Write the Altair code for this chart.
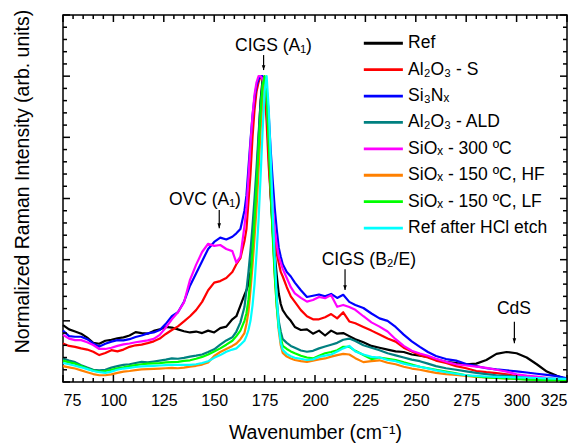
import altair as alt
import pandas as pd

FONT = "Liberation Sans"

wavenumber = [75, 78, 81, 84, 87, 90, 93, 96, 99, 102, 105, 108, 111, 114, 117, 120, 123, 126, 129, 132, 135, 138, 141, 144, 147, 150, 153, 156, 159,
              161, 163, 165, 166, 167, 168, 169, 170, 171, 172, 173, 174, 175, 176, 177, 178, 179, 180, 181, 182, 183, 184, 186,
              188, 190, 193, 196, 199, 202, 205, 208, 211, 214, 217, 220, 224, 228, 232, 236, 240, 244, 248, 252, 256, 260, 265, 270, 275, 280, 285, 290, 295, 300, 305, 310, 315, 320, 325]

ref = [0.186, 0.172, 0.165, 0.158, 0.145, 0.128, 0.125, 0.135, 0.138, 0.143, 0.146, 0.152, 0.163, 0.160, 0.158, 0.167, 0.172, 0.180, 0.178, 0.172, 0.166, 0.162, 0.165, 0.160, 0.168, 0.162, 0.176, 0.181, 0.205,
       0.215, 0.25, 0.285, 0.30, 0.32, 0.36, 0.44, 0.54, 0.66, 0.79, 0.92, 0.99, 0.99, 0.90, 0.75, 0.61, 0.50, 0.42, 0.35, 0.29, 0.255, 0.235, 0.215,
       0.200, 0.180, 0.170, 0.172, 0.158, 0.168, 0.152, 0.168, 0.158, 0.160, 0.150, 0.140, 0.130, 0.118, 0.112, 0.106, 0.100, 0.098, 0.090, 0.086, 0.082, 0.074, 0.066, 0.062, 0.058, 0.060, 0.072, 0.092, 0.098, 0.094, 0.080, 0.058, 0.034, 0.020, 0.008]

al2o3_s = [0.126, 0.118, 0.115, 0.110, 0.106, 0.099, 0.088, 0.095, 0.104, 0.100, 0.106, 0.115, 0.120, 0.122, 0.127, 0.133, 0.142, 0.157, 0.170, 0.182, 0.198, 0.215, 0.235, 0.262, 0.300, 0.325, 0.330, 0.340, 0.360,
           0.385, 0.405, 0.46, 0.50, 0.59, 0.68, 0.80, 0.89, 0.95, 0.98, 1.0, 0.99, 0.95, 0.85, 0.71, 0.61, 0.53, 0.46, 0.42, 0.39, 0.36, 0.345, 0.31,
           0.28, 0.262, 0.235, 0.215, 0.205, 0.205, 0.212, 0.222, 0.208, 0.228, 0.198, 0.192, 0.180, 0.168, 0.155, 0.142, 0.132, 0.112, 0.100, 0.088, 0.080, 0.070, 0.062, 0.052, 0.045, 0.036, 0.032, 0.029, 0.025, 0.019, 0.016, 0.013, 0.011, 0.009, 0.007]

si3nx = [0.168, 0.150, 0.148, 0.148, 0.140, 0.126, 0.116, 0.125, 0.132, 0.137, 0.136, 0.140, 0.147, 0.152, 0.159, 0.162, 0.170, 0.190, 0.215, 0.228, 0.262, 0.315, 0.355, 0.395, 0.435, 0.458, 0.472, 0.466, 0.475,
         0.486, 0.50, 0.56, 0.61, 0.70, 0.79, 0.87, 0.93, 0.97, 0.99, 1.0, 1.0, 0.99, 0.96, 0.88, 0.76, 0.66, 0.57, 0.50, 0.44, 0.41, 0.385, 0.36,
         0.345, 0.325, 0.30, 0.278, 0.282, 0.286, 0.280, 0.288, 0.275, 0.285, 0.262, 0.252, 0.242, 0.224, 0.208, 0.200, 0.180, 0.155, 0.133, 0.115, 0.098, 0.085, 0.075, 0.070, 0.059, 0.052, 0.045, 0.041, 0.038, 0.035, 0.031, 0.027, 0.023, 0.019, 0.012]

al2o3_ald = [0.077, 0.070, 0.065, 0.055, 0.047, 0.040, 0.038, 0.040, 0.047, 0.052, 0.056, 0.058, 0.062, 0.066, 0.064, 0.067, 0.070, 0.073, 0.077, 0.076, 0.079, 0.083, 0.086, 0.090, 0.098, 0.107, 0.122, 0.136, 0.146,
             0.165, 0.195, 0.245, 0.30, 0.36, 0.43, 0.51, 0.60, 0.70, 0.81, 0.91, 0.98, 0.99, 0.93, 0.80, 0.65, 0.50, 0.37, 0.27, 0.20, 0.165, 0.14, 0.128,
             0.118, 0.112, 0.103, 0.099, 0.102, 0.110, 0.116, 0.122, 0.128, 0.138, 0.142, 0.134, 0.120, 0.112, 0.104, 0.094, 0.087, 0.080, 0.073, 0.068, 0.060, 0.052, 0.045, 0.040, 0.035, 0.030, 0.026, 0.022, 0.020, 0.017, 0.015, 0.013, 0.011, 0.009, 0.008]

siox_300 = [0.154, 0.142, 0.137, 0.137, 0.130, 0.121, 0.108, 0.108, 0.112, 0.118, 0.123, 0.126, 0.130, 0.133, 0.136, 0.141, 0.154, 0.178, 0.205, 0.228, 0.260, 0.334, 0.383, 0.425, 0.452, 0.445, 0.448, 0.435, 0.428,
            0.39, 0.41, 0.51, 0.57, 0.67, 0.78, 0.87, 0.94, 0.98, 1.0, 1.0, 0.99, 0.97, 0.93, 0.80, 0.68, 0.58, 0.50, 0.45, 0.41, 0.39, 0.37, 0.34,
            0.31, 0.29, 0.275, 0.263, 0.268, 0.278, 0.274, 0.284, 0.246, 0.252, 0.245, 0.236, 0.215, 0.195, 0.181, 0.165, 0.140, 0.118, 0.102, 0.093, 0.086, 0.076, 0.066, 0.058, 0.054, 0.050, 0.046, 0.040, 0.034, 0.025, 0.021, 0.018, 0.014, 0.010, 0.007]

siox_150_hf = [0.052, 0.048, 0.044, 0.038, 0.032, 0.026, 0.022, 0.022, 0.025, 0.030, 0.034, 0.036, 0.039, 0.041, 0.042, 0.043, 0.044, 0.045, 0.046, 0.045, 0.047, 0.050, 0.053, 0.057, 0.064, 0.085, 0.098, 0.108, 0.118,
               0.126, 0.140, 0.16, 0.19, 0.23, 0.30, 0.38, 0.47, 0.57, 0.69, 0.82, 0.93, 0.995, 0.96, 0.83, 0.66, 0.50, 0.36, 0.25, 0.17, 0.12, 0.095, 0.083,
               0.077, 0.072, 0.068, 0.066, 0.070, 0.074, 0.077, 0.083, 0.088, 0.092, 0.090, 0.078, 0.065, 0.068, 0.071, 0.063, 0.058, 0.050, 0.044, 0.040, 0.035, 0.030, 0.026, 0.023, 0.020, 0.017, 0.015, 0.013, 0.012, 0.010, 0.009, 0.008, 0.008, 0.008, 0.008]

siox_150_lf = [0.070, 0.064, 0.060, 0.052, 0.044, 0.037, 0.034, 0.036, 0.040, 0.045, 0.048, 0.052, 0.055, 0.058, 0.060, 0.061, 0.062, 0.064, 0.065, 0.066, 0.069, 0.071, 0.076, 0.082, 0.090, 0.100, 0.110, 0.122, 0.135,
               0.150, 0.168, 0.20, 0.225, 0.27, 0.34, 0.43, 0.53, 0.64, 0.76, 0.88, 0.97, 1.0, 0.93, 0.79, 0.63, 0.48, 0.35, 0.25, 0.18, 0.145, 0.118, 0.108,
               0.100, 0.094, 0.086, 0.080, 0.077, 0.086, 0.094, 0.098, 0.104, 0.115, 0.115, 0.102, 0.088, 0.075, 0.080, 0.076, 0.072, 0.064, 0.057, 0.050, 0.045, 0.040, 0.034, 0.028, 0.022, 0.018, 0.015, 0.013, 0.012, 0.010, 0.008, 0.007, 0.006, 0.006, 0.006]

ref_hcl = [0.062, 0.058, 0.053, 0.048, 0.042, 0.036, 0.032, 0.030, 0.034, 0.040, 0.044, 0.046, 0.049, 0.051, 0.052, 0.053, 0.054, 0.055, 0.056, 0.056, 0.056, 0.056, 0.058, 0.062, 0.068, 0.079, 0.088, 0.099, 0.106,
           0.110, 0.122, 0.135, 0.150, 0.170, 0.20, 0.25, 0.32, 0.42, 0.53, 0.67, 0.82, 0.95, 1.0, 0.90, 0.74, 0.56, 0.41, 0.28, 0.18, 0.13, 0.105, 0.092,
           0.084, 0.079, 0.076, 0.072, 0.074, 0.082, 0.086, 0.090, 0.100, 0.110, 0.118, 0.100, 0.090, 0.082, 0.080, 0.072, 0.068, 0.060, 0.054, 0.050, 0.044, 0.038, 0.032, 0.027, 0.022, 0.020, 0.018, 0.017, 0.016, 0.015, 0.014, 0.013, 0.012, 0.011, 0.010]

series_names = ["Ref", "Al₂O₃ - S", "Si₃Nₓ", "Al₂O₃ - ALD", "SiOₓ - 300 ºC",
                "SiOₓ - 150 ºC, HF", "SiOₓ - 150 ºC, LF", "Ref after HCl etch"]
series_values = [ref, al2o3_s, si3nx, al2o3_ald, siox_300, siox_150_hf, siox_150_lf, ref_hcl]
series_colors = ["#000000", "#ff0000", "#0000ff", "#008080", "#ff00ff", "#ff8000", "#00ff00", "#00ffff"]

x_major_ticks = [75, 100, 125, 150, 175, 200, 225, 250, 275, 300, 325]
x_minor_ticks = [v for v in range(75, 326, 5) if v not in x_major_ticks]
y_major_ticks = [0.0, 0.2, 0.4, 0.6, 0.8, 1.0, 1.2]
y_minor_ticks = [round(i * 0.04, 2) for i in range(31) if i % 5 != 0]

ann_labels = ["CIGS (A₁)", "OVC (A₁)", "CIGS (B₂/E)", "CdS"]
ann_x = [179.4, 145.4, 226.7, 298.7]
ann_y = [1.082, 0.579, 0.383, 0.222]
arrow_x = [174.5, 152.5, 214.9, 298.9]
arrow_top = [1.069, 0.562, 0.369, 0.197]
arrow_tip = [1.02, 0.503, 0.301, 0.127]

W, H = 504, 367
X0, X1, Y0, Y1 = 75, 325, 0.0, 1.2

rows = []
for si, (name, vals) in enumerate(zip(series_names, series_values)):
    for i, (xv, yv) in enumerate(zip(wavenumber, vals)):
        rows.append({"series": name, "s": si, "i": i, "x": xv, "y": yv})
df = pd.DataFrame(rows)

xscale = alt.Scale(domain=[X0, X1], nice=False, zero=False)
yscale = alt.Scale(domain=[Y0, Y1], nice=False, zero=False)

xaxis = alt.Axis(
    title="Wavenumber (cm⁻¹)", values=x_major_ticks, ticks=False, tickSize=0, domain=False, grid=False,
    labelFont=FONT, labelFontSize=16, labelColor="black", labelBaseline="alphabetic", labelPadding=23,
    titleFont=FONT, titleFontSize=19.5, titleFontWeight="normal", titleColor="black",
    titleBaseline="alphabetic", titleY=56, titleX=W / 2, titleAlign="center")
yaxis = alt.Axis(
    title="Normalized Raman Intensity (arb. units)", labels=False, ticks=False, tickSize=0, domain=False, grid=False,
    titleFont=FONT, titleFontSize=19.5, titleFontWeight="normal", titleColor="black",
    titleAngle=270, titleBaseline="alphabetic", titleAlign="center", titleX=-35, titleY=166)

lines = alt.Chart(df).mark_line(strokeWidth=2.2, strokeJoin="round").encode(
    x=alt.X("x:Q", scale=xscale, axis=xaxis),
    y=alt.Y("y:Q", scale=yscale, axis=yaxis),
    color=alt.Color("series:N", scale=alt.Scale(domain=series_names, range=series_colors), legend=alt.Legend(
        title=None, orient="none", legendX=311.6, legendY=19.5, symbolType="M-5,0H5", symbolSize=61,
        symbolStrokeWidth=2.8, labelFont=FONT, labelFontSize=17.5, labelColor="black", rowPadding=7.4,
        labelOffset=16, padding=0, labelLimit=300)),
    detail="s:N",
    order="i:Q",
)

# inward tick marks on all four sides (lengths in px converted to data units)
maj_dy = 7 * (Y1 - Y0) / H
min_dy = 4 * (Y1 - Y0) / H
maj_dx = 7 * (X1 - X0) / W
min_dx = 4 * (X1 - X0) / W

def xt(vals, dy, top):
    d = pd.DataFrame({"x": vals})
    base = Y1 if top else Y0
    end = Y1 - dy if top else Y0 + dy
    return alt.Chart(d).transform_calculate(y=str(base), y2=str(end)).mark_rule(
        color="black", strokeWidth=1.5).encode(
        x=alt.X("x:Q", scale=xscale, axis=xaxis),
        y=alt.Y("y:Q", scale=yscale, axis=yaxis), y2="y2:Q")

def yt(vals, dx, right):
    d = pd.DataFrame({"y": vals})
    base = X1 if right else X0
    end = X1 - dx if right else X0 + dx
    return alt.Chart(d).transform_calculate(x=str(base), x2=str(end)).mark_rule(
        color="black", strokeWidth=1.5).encode(
        y=alt.Y("y:Q", scale=yscale, axis=yaxis),
        x=alt.X("x:Q", scale=xscale, axis=xaxis), x2="x2:Q")

ticks = [xt(x_major_ticks, maj_dy, False), xt(x_minor_ticks, min_dy, False),
         xt(x_major_ticks, maj_dy, True), xt(x_minor_ticks, min_dy, True),
         yt(y_major_ticks, maj_dx, False), yt(y_minor_ticks, min_dx, False),
         yt(y_major_ticks, maj_dx, True), yt(y_minor_ticks, min_dx, True)]

ann_df = pd.DataFrame({"label": ann_labels, "x": ann_x, "y": ann_y})
arr_df = pd.DataFrame({"x": arrow_x, "y": arrow_top, "y2": arrow_tip})

ann_text = alt.Chart(ann_df).mark_text(font=FONT, fontSize=17.5, color="black", baseline="alphabetic", align="center").encode(
    x=alt.X("x:Q", scale=xscale, axis=xaxis), y=alt.Y("y:Q", scale=yscale, axis=yaxis), text="label:N")
arr_shaft = alt.Chart(arr_df).mark_rule(color="black", strokeWidth=1.2).encode(
    x=alt.X("x:Q", scale=xscale, axis=xaxis), y=alt.Y("y:Q", scale=yscale, axis=yaxis), y2="y2:Q")
arr_head = alt.Chart(arr_df).mark_point(shape="M-0.9,-2.4L0.9,-2.4L0,0Z", size=16, filled=True, color="black", opacity=1).encode(
    x=alt.X("x:Q", scale=xscale, axis=xaxis), y=alt.Y("y2:Q", scale=yscale, axis=yaxis))

chart = alt.layer(lines, ann_text, arr_shaft, arr_head, *ticks).properties(
    width=W, height=H,
    autosize=alt.AutoSizeParams(type="none"),
    padding={"left": 55, "top": 7, "right": 4, "bottom": 62},
).configure_view(stroke="black", strokeWidth=1.5)

chart.save("out.html", embed_options={"renderer": "svg", "actions": False})
